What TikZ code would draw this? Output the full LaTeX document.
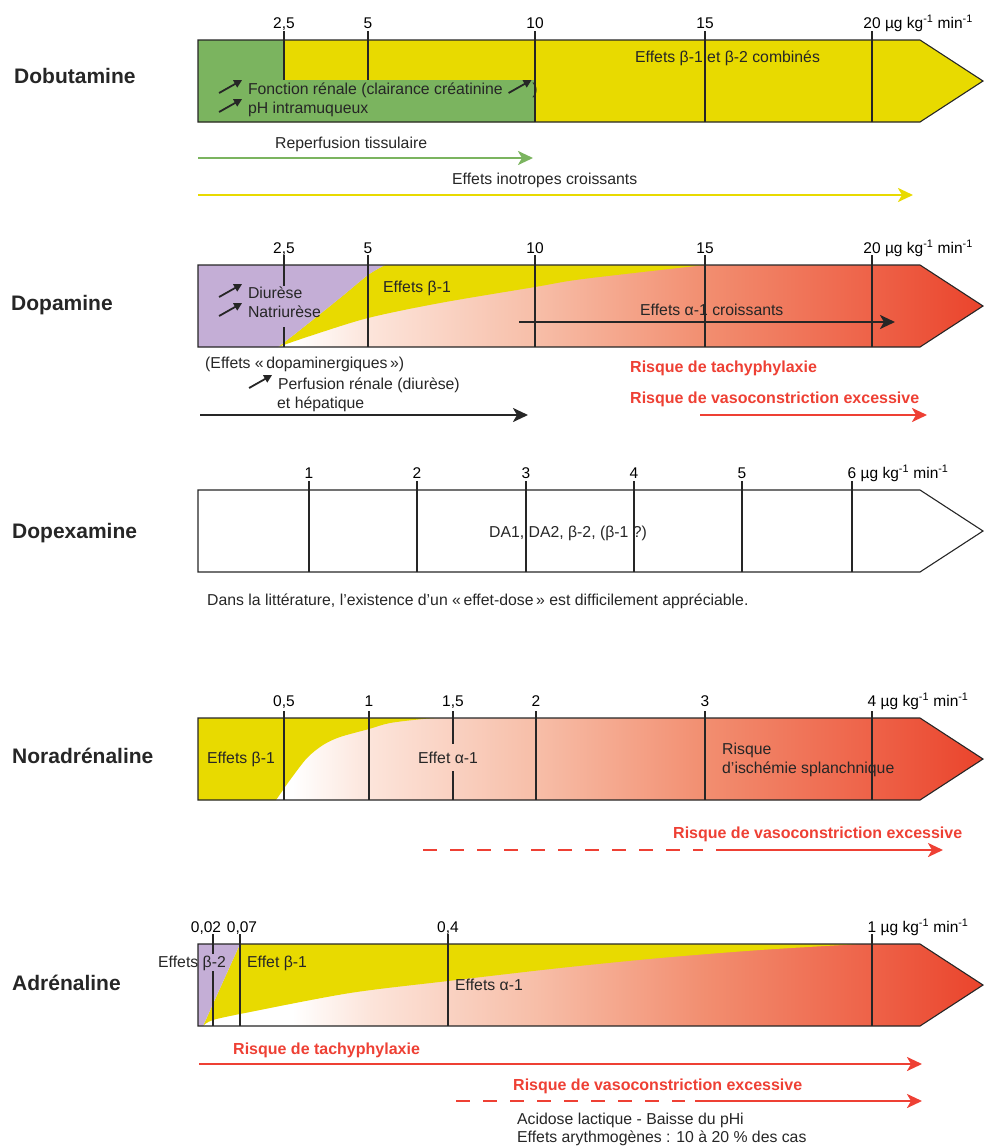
\documentclass[tikz,border=0pt]{standalone}
\usepackage{fontspec}
\setmainfont{Liberation Sans}
\usetikzlibrary{arrows.meta}
\definecolor{ylw}{RGB}{232,218,0}
\definecolor{grn}{RGB}{123,180,95}
\definecolor{purp}{RGB}{196,174,214}
\definecolor{riskred}{RGB}{238,64,52}
\definecolor{gA}{RGB}{252,228,218}
\definecolor{gB}{RGB}{247,190,168}
\definecolor{gC}{RGB}{242,142,112}
\definecolor{gD}{RGB}{238,98,72}
\definecolor{gE}{RGB}{234,68,44}
\pgfdeclarehorizontalshading{redramp}{100bp}{color(0bp)=(white); color(31bp)=(white); color(36bp)=(gA); color(46.5bp)=(gB); color(57.3bp)=(gC); color(67.9bp)=(gD); color(75bp)=(gE); color(100bp)=(gE)}
\newcommand{\hausse}{\tikz[baseline=0pt]\draw[line width=1.8pt,-{Triangle[length=8pt,width=8pt]}] (0pt,1pt) -- (23pt,14pt);}
\newcommand{\unites}{\hspace{4pt}µg kg\textsuperscript{-1} min\textsuperscript{-1}}
\tikzset{
  bar/.style={draw=black!85, line width=1.1pt, line join=miter},
  tk/.style={draw=black!85, line width=1.1pt},
  lbl/.style={font=\fontsize{15.5}{18}\selectfont, inner sep=0pt, anchor=base},
  unit/.style={font=\fontsize{15.5}{18}\selectfont, inner sep=0pt, anchor=base west},
  txt/.style={font=\fontsize{15.8}{18}\selectfont, inner sep=0pt, anchor=base west, text=black!85},
  drug/.style={font=\bfseries\fontsize{21}{24}\selectfont, inner sep=0pt, anchor=base west, text=black!85},
  risk/.style={font=\bfseries\fontsize{16}{19}\selectfont, text=riskred, inner sep=0pt, anchor=base west},
  longarrow/.style={line width=2.6pt, -{Stealth[length=15pt,width=14pt,inset=4pt]}},
  dashline/.style={line width=2.6pt, dash pattern=on 14pt off 13pt},
}
\begin{document}
\begin{tikzpicture}[x=1pt,y=-1pt]
\useasboundingbox (0,0) rectangle (983,1146);

% ================= Dobutamine =================
\fill[ylw] (198,40) -- (920,40) -- (983,81) -- (920,122) -- (198,122) -- cycle;
\fill[grn] (198,40) -- (284,40) -- (284,80) -- (535,80) -- (535,122) -- (198,122) -- cycle;
\draw[tk] (284,31) -- (284,80);
\draw[tk] (368,31) -- (368,80);
\draw[tk] (535,31) -- (535,122);
\draw[tk] (705,31) -- (705,122);
\draw[tk] (872,31) -- (872,122);
\draw[bar] (198,40) -- (920,40) -- (983,81) -- (920,122) -- (198,122) -- cycle;
\node[lbl] (b1) at (284,28) {2,5};
\node[lbl] (b2) at (368,28) {5};
\node[lbl] (b3) at (535,28) {10};
\node[lbl] (b4) at (705,28) {15};
\node[lbl] (b5) at (872,28) {20};
\node[unit] (b6) at (b5.base east) {\unites};
\node[drug] (dobu) at (14,83) {Dobutamine};
\node[txt] (dobA) at (635,62) {Effets β-1 et β-2 combinés};
\node[txt] (dobB) at (218,94) {\hausse\hspace{5pt}Fonction rénale (clairance créatinine\hspace{5pt}\hausse)};
\node[txt] (dobC) at (218,113) {\hausse\hspace{5pt}pH intramuqueux};
\node[txt] (dobD) at (275,148) {Reperfusion tissulaire};
\coordinate (dg0) at (198,158);
\coordinate (dg1) at (533,158);
\draw[longarrow, grn] (dg0) -- (dg1);
\node[txt] (dobE) at (452,184) {Effets inotropes croissants};
\coordinate (dy0) at (198,195);
\coordinate (dy1) at (913,195);
\draw[longarrow, ylw] (dy0) -- (dy1);

% ================= Dopamine =================
\shade[shading=redramp] (198,265) -- (920,265) -- (983,306) -- (920,347) -- (198,347) -- cycle;
\fill[ylw] plot[smooth] coordinates {(278,347) (300,330) (340,298) (368,275) (385,265)} -- (705,265)
  -- plot[smooth] coordinates {(705,265) (583,279) (535,287) (440,303) (368,318) (310,336) (278,347)} -- cycle;
\fill[purp] (198,265) -- (385,265) -- plot[smooth] coordinates {(385,265) (368,275) (340,298) (300,330) (278,347)} -- (198,347) -- cycle;
\draw[tk] (284,255) -- (284,286);
\draw[tk] (284,327) -- (284,347);
\draw[tk] (368,255) -- (368,347);
\draw[tk] (535,255) -- (535,347);
\draw[tk] (705,255) -- (705,347);
\draw[tk] (872,255) -- (872,347);
\draw[bar] (198,265) -- (920,265) -- (983,306) -- (920,347) -- (198,347) -- cycle;
\node[lbl] (p1) at (284,253) {2,5};
\node[lbl] (p2) at (368,253) {5};
\node[lbl] (p3) at (535,253) {10};
\node[lbl] (p4) at (705,253) {15};
\node[lbl] (p5) at (872,253) {20};
\node[unit] (p6) at (p5.base east) {\unites};
\node[drug] (dopa) at (11,310) {Dopamine};
\node[txt] (dopA) at (218,298) {\hausse\hspace{5pt}Diurèse};
\node[txt] (dopB) at (218,317) {\hausse\hspace{5pt}Natriurèse};
\node[txt] (dopC) at (383,292) {Effets β-1};
\node[txt] (dopD) at (640,315) {Effets α-1 croissants};
\coordinate (da0) at (519,322);
\coordinate (da1) at (895,322);
\draw[longarrow, black!85] (da0) -- (da1);
\node[txt] (dopE) at (205,368) {(Effets «\,dopaminergiques\,»)};
\node[txt] (dopF) at (248,389) {\hausse\hspace{5pt}Perfusion rénale (diurèse)};
\node[txt] (dopG) at (277,408) {et hépatique};
\coordinate (db0) at (200,415);
\coordinate (db1) at (528,415);
\draw[longarrow, black!85] (db0) -- (db1);
\node[risk] (dopR1) at (630,372) {Risque de tachyphylaxie};
\node[risk] (dopR2) at (630,403) {Risque de vasoconstriction excessive};
\coordinate (dr0) at (700,415);
\coordinate (dr1) at (927,415);
\draw[longarrow, riskred] (dr0) -- (dr1);

% ================= Dopexamine =================
\draw[tk] (309,481) -- (309,572);
\draw[tk] (417,481) -- (417,572);
\draw[tk] (526,481) -- (526,572);
\draw[tk] (634,481) -- (634,572);
\draw[tk] (742,481) -- (742,572);
\draw[tk] (852,481) -- (852,572);
\draw[bar] (198,490) -- (920,490) -- (983,531) -- (920,572) -- (198,572) -- cycle;
\node[lbl] (x1) at (309,478) {1};
\node[lbl] (x2) at (417,478) {2};
\node[lbl] (x3) at (526,478) {3};
\node[lbl] (x4) at (634,478) {4};
\node[lbl] (x5) at (742,478) {5};
\node[lbl] (x6) at (852,478) {6};
\node[unit] (x7) at (x6.base east) {\unites};
\node[drug] (dopx) at (12,538) {Dopexamine};
\node[txt, anchor=base] (dpxA) at (568,537) {DA1, DA2, β-2, (β-1 ?)};
\node[txt] (dpxB) at (207,605) {Dans la littérature, l'existence d'un «\,effet-dose\,» est difficilement appréciable.};

% ================= Noradrenaline =================
\shade[shading=redramp] (198,718) -- (920,718) -- (983,759) -- (920,800) -- (198,800) -- cycle;
\fill[ylw] (198,718) -- (440,718) -- plot[smooth] coordinates {(440,718) (423,719) (390,723) (369,729) (340,737) (323,745) (307,758) (290,780) (283,790) (276,800)} -- (198,800) -- cycle;
\draw[tk] (284,711) -- (284,800);
\draw[tk] (369,711) -- (369,800);
\draw[tk] (453,711) -- (453,744);
\draw[tk] (453,771) -- (453,800);
\draw[tk] (536,711) -- (536,800);
\draw[tk] (705,711) -- (705,800);
\draw[tk] (872,711) -- (872,800);
\draw[bar] (198,718) -- (920,718) -- (983,759) -- (920,800) -- (198,800) -- cycle;
\node[lbl] (n1) at (284,706) {0,5};
\node[lbl] (n2) at (369,706) {1};
\node[lbl] (n3) at (453,706) {1,5};
\node[lbl] (n4) at (536,706) {2};
\node[lbl] (n5) at (705,706) {3};
\node[lbl] (n6) at (872,706) {4};
\node[unit] (n7) at (n6.base east) {\unites};
\node[drug] (nora) at (12,763) {Noradrénaline};
\node[txt] (norA) at (207,763) {Effets β-1};
\node[txt] (norB) at (418,763) {Effet α-1};
\node[txt] (norC) at (722,754) {Risque};
\node[txt] (norD) at (722,773) {d'ischémie splanchnique};
\node[risk] (norR) at (673,838) {Risque de vasoconstriction excessive};
\coordinate (nd0) at (423,850);
\coordinate (nd1) at (703,850);
\draw[dashline, riskred] (nd0) -- (nd1);
\coordinate (ns0) at (716,850);
\coordinate (ns1) at (943,850);
\draw[longarrow, riskred] (ns0) -- (ns1);

% ================= Adrenaline =================
\shade[shading=redramp] (198,944) -- (920,944) -- (983,985) -- (920,1026) -- (198,1026) -- cycle;
\fill[ylw] (203,1026) -- (240,944) -- (860,944) -- plot[smooth] coordinates {(860,944) (760,950) (660,958) (560,968) (448,981) (350,993) (250,1012) (213,1020) (203,1026)} -- cycle;
\fill[purp] (198,944) -- (240,944) -- (203,1026) -- (198,1026) -- cycle;
\draw[tk] (213,934) -- (213,954);
\draw[tk] (213,971) -- (213,1026);
\draw[tk] (240,934) -- (240,1026);
\draw[tk] (448,934) -- (448,1026);
\draw[tk] (872,934) -- (872,1026);
\draw[bar] (198,944) -- (920,944) -- (983,985) -- (920,1026) -- (198,1026) -- cycle;
\node[lbl] (a1) at (206,932) {0,02};
\node[lbl] (a2) at (242,932) {0,07};
\node[lbl] (a3) at (448,932) {0,4};
\node[lbl] (a4) at (872,932) {1};
\node[unit] (a5) at (a4.base east) {\unites};
\node[drug] (adre) at (12,990) {Adrénaline};
\node[txt] (adrA) at (158,967) {Effets β-2};
\node[txt] (adrB) at (247,967) {Effet β-1};
\node[txt] (adrC) at (455,990) {Effets α-1};
\node[risk] (adrR1) at (233,1054) {Risque de tachyphylaxie};
\coordinate (at0) at (199,1064);
\coordinate (at1) at (922,1064);
\draw[longarrow, riskred] (at0) -- (at1);
\node[risk] (adrR2) at (513,1090) {Risque de vasoconstriction excessive};
\coordinate (ad0) at (456,1101);
\coordinate (ad1) at (685,1101);
\draw[dashline, riskred] (ad0) -- (ad1);
\coordinate (as0) at (695,1101);
\coordinate (as1) at (922,1101);
\draw[longarrow, riskred] (as0) -- (as1);
\node[txt] (adrD) at (517,1124) {Acidose lactique - Baisse du pHi};
\node[txt] (adrE) at (517,1142) {Effets arythmogènes : 10 à 20 \% des cas};
\end{tikzpicture}
\end{document}
